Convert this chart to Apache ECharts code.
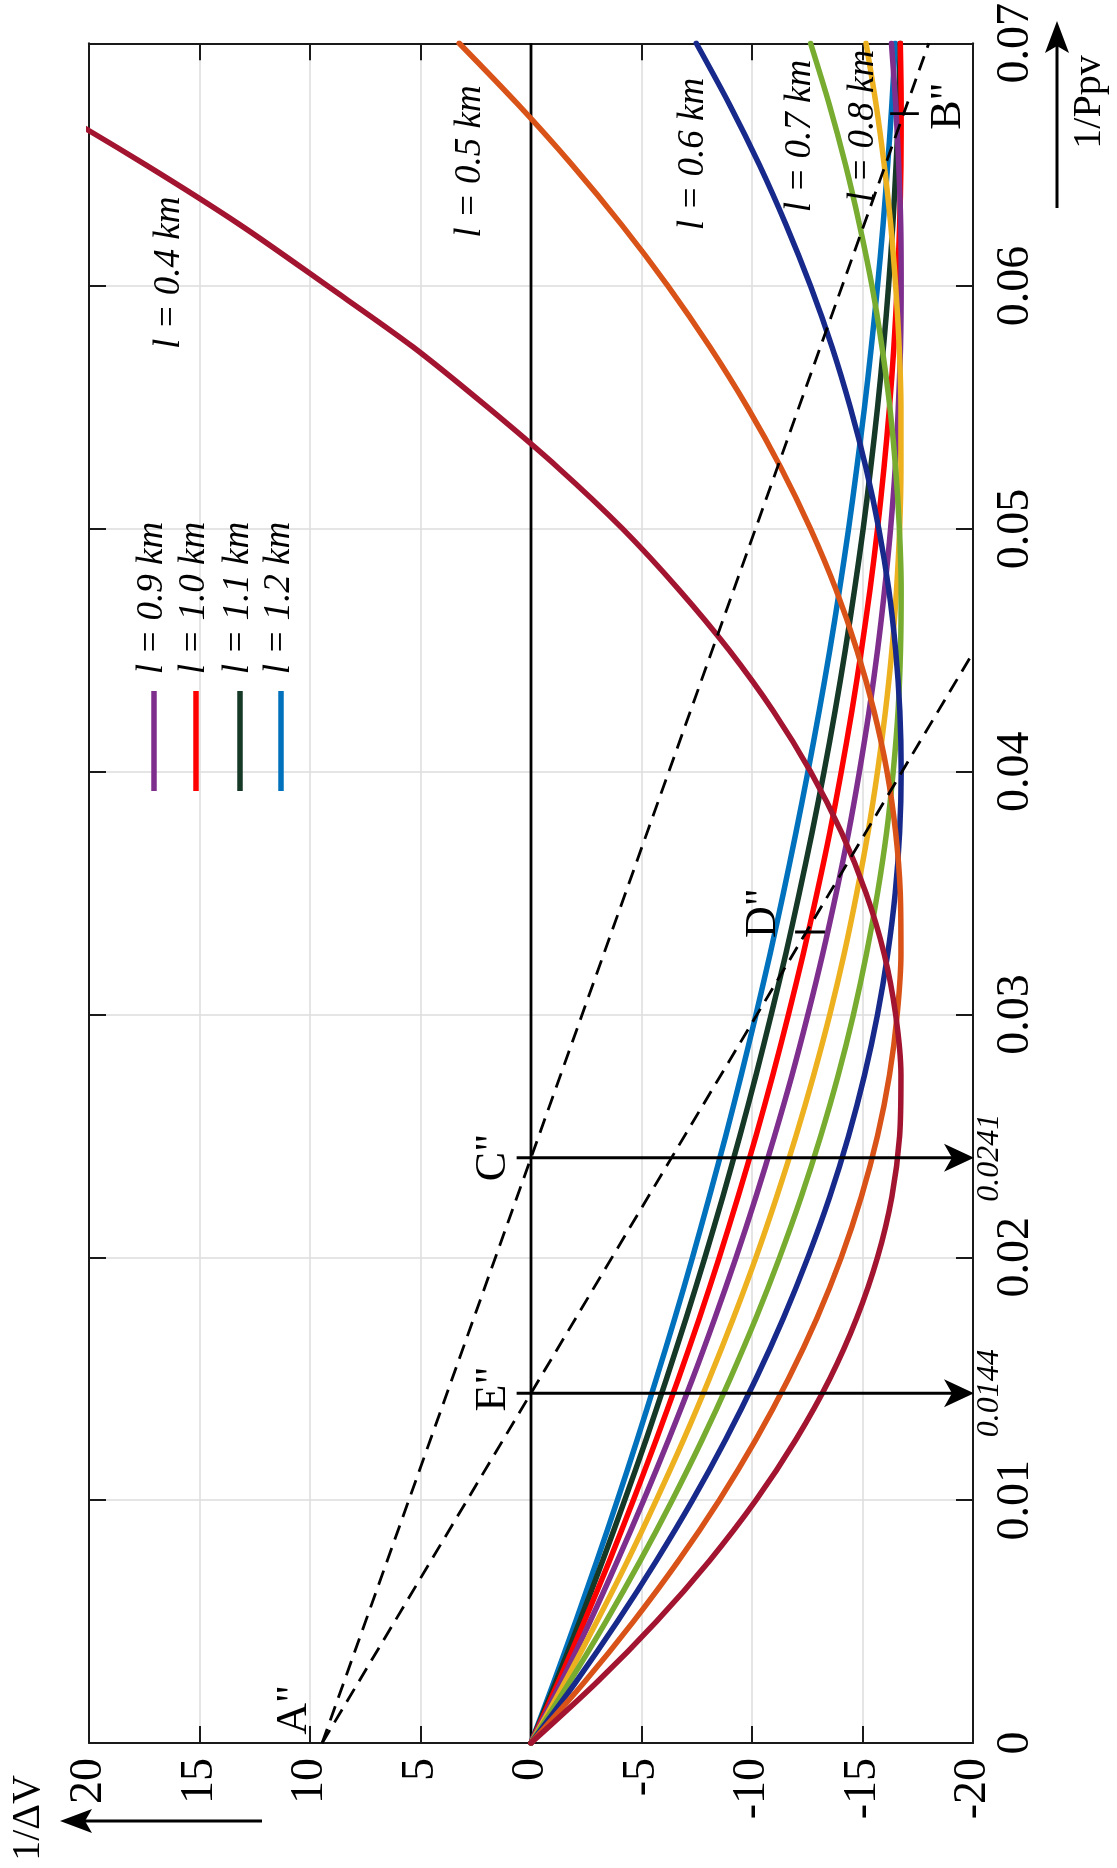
<!DOCTYPE html>
<html>
<head>
<meta charset="utf-8">
<script src="https://cdn.jsdelivr.net/npm/echarts@6/dist/echarts.min.js"></script>
<style>
  html, body { margin: 0; padding: 0; background: #ffffff; }
  #chart { width: 1117px; height: 1868px; }
</style>
</head>
<body>
<div id="chart"></div>
<script>
// 1/Ppv sample positions shared by every curve
const ppv = [0, 0.0025, 0.005, 0.0075, 0.01, 0.0125, 0.015, 0.0175, 0.02, 0.0225, 0.025, 0.0275, 0.03, 0.0325,
  0.035, 0.0375, 0.04, 0.0425, 0.045, 0.0475, 0.05, 0.0525, 0.055, 0.0575, 0.06, 0.0625, 0.065, 0.0675, 0.07];

// 1/ΔV along each curve, one array per line length l
const dvL04 = [0, -2.98, -5.67, -8.07, -10.18, -11.99, -13.52, -14.74, -15.68, -16.33, -16.68, -16.74, -16.50, -15.98,
  -15.16, -14.05, -12.65, -10.96, -8.97, -6.69, -4.15, -1.25, 1.95, 5.35, 9.2, 13.13, 17.45, 22.07, 26.98];
const dvL05 = [0, -2.41, -4.63, -6.67, -8.52, -10.18, -11.65, -12.94, -14.04, -14.95, -15.68, -16.22, -16.57, -16.74,
  -16.71, -16.50, -16.11, -15.52, -14.75, -13.80, -12.65, -11.32, -9.80, -8.09, -6.20, -4.12, -1.85, 0.61, 3.25];
const dvL06 = [0, -2.02, -3.91, -5.67, -7.31, -8.81, -10.18, -11.42, -12.53, -13.52, -14.37, -15.09, -15.68, -16.14,
  -16.48, -16.68, -16.75, -16.69, -16.50, -16.19, -15.74, -15.16, -14.45, -13.62, -12.65, -11.55, -10.33, -8.97, -7.48];
const dvL07 = [0, -1.74, -3.39, -4.94, -6.39, -7.75, -9.01, -10.18, -11.25, -12.23, -13.11, -13.90, -14.59, -15.18,
  -15.68, -16.09, -16.39, -16.61, -16.72, -16.75, -16.67, -16.50, -16.24, -15.88, -15.43, -14.87, -14.23, -13.49, -12.65];
const dvL08 = [0, -1.53, -2.98, -4.37, -5.67, -6.91, -8.07, -9.16, -10.18, -11.12, -11.99, -12.79, -13.52, -14.17,
  -14.74, -15.25, -15.68, -16.04, -16.33, -16.54, -16.68, -16.74, -16.74, -16.66, -16.50, -16.28, -15.98, -15.61, -15.16];
const dvL09 = [0, -1.36, -2.67, -3.91, -5.10, -6.23, -7.31, -8.32, -9.28, -10.18, -11.02, -11.81, -12.53, -13.20,
  -13.81, -14.37, -14.86, -15.30, -15.68, -16.00, -16.27, -16.48, -16.62, -16.72, -16.75, -16.73, -16.64, -16.50, -16.31];
const dvL10 = [0, -1.23, -2.41, -3.55, -4.63, -5.67, -6.67, -7.62, -8.52, -9.37, -10.18, -10.94, -11.65, -12.32,
  -12.94, -13.52, -14.04, -14.52, -14.95, -15.34, -15.68, -15.97, -16.22, -16.42, -16.57, -16.68, -16.74, -16.75, -16.71];
const dvL11 = [0, -1.12, -2.20, -3.24, -4.24, -5.21, -6.13, -7.02, -7.87, -8.68, -9.45, -10.18, -10.87, -11.53,
  -12.14, -12.72, -13.26, -13.76, -14.22, -14.64, -15.03, -15.37, -15.68, -15.95, -16.18, -16.37, -16.52, -16.64, -16.71];
const dvL12 = [0, -1.03, -2.02, -2.98, -3.91, -4.81, -5.67, -6.51, -7.31, -8.07, -8.81, -9.51, -10.18, -10.82,
  -11.42, -11.99, -12.53, -13.04, -13.52, -13.96, -14.37, -14.74, -15.09, -15.40, -15.68, -15.93, -16.14, -16.33, -16.48];

const lineLengths = ['0.4', '0.5', '0.6', '0.7', '0.8', '0.9', '1.0', '1.1', '1.2'];
const curveValues = [dvL04, dvL05, dvL06, dvL07, dvL08, dvL09, dvL10, dvL11, dvL12];

// Straight construction lines from A'' (1/ΔV, 1/Ppv end points)
const lineACB = { dv: [9.45, -18.0], ppv: [0, 0.07] };
const lineAED = { dv: [9.45, -20.0], ppv: [0, 0.0449] };

// Read-off levels on the 1/Ppv axis
const readLevels = [0.0241, 0.0144];
const readLabels = ['0.0241', '0.0144'];
const readStartDv = 0.65;

// Points marked on the construction lines
const tickD = { ppv: 0.0334, dv: [-11.95, -13.3] };
const tickB = { ppv: 0.0671, dv: [-16.25, -17.55] };

// Axis ranges and tick steps
const dvRange = [-20, 20], dvStep = 5;
const ppvRange = [0, 0.07], ppvStep = 0.01;

const colors = ['#A2142F', '#D95319', '#172A8C', '#77AC30', '#EDB120', '#7E2F8E', '#FF0000', '#153827', '#0072BD'];
const SERIF = '"Liberation Serif", "DejaVu Serif", serif';
const TICK_FONT = 46;

const chart = echarts.init(document.getElementById('chart'), null, { renderer: 'canvas' });

const frameColor = '#1a1a1a';
function axisBase(extra) {
  return Object.assign({
    type: 'value',
    axisLine: { show: true, onZero: false, lineStyle: { color: frameColor, width: 2 } },
    axisTick: { show: true, inside: true, length: 17, lineStyle: { color: frameColor, width: 2 } },
    splitLine: { show: false },
    axisLabel: { show: false }
  }, extra);
}

// Curves: drawn widest-l first so that l = 0.4 km lies on top
const curveSeries = lineLengths.map((l, i) => ({
  type: 'line',
  name: 'l = ' + l + ' km',
  data: ppv.map((p, j) => [curveValues[i][j], p]),
  smooth: 0.3,
  symbol: 'none',
  clip: true,
  lineStyle: { color: colors[i], width: 5.5, cap: 'round', join: 'round' },
  z: 20 - i
})).reverse();

const zeroSeries = {
  type: 'line', data: [[0, ppvRange[0]], [0, ppvRange[1]]], symbol: 'none',
  lineStyle: { color: '#000', width: 2.8 }, z: 5
};

const dashSeries = [lineACB, lineAED].map(d => ({
  type: 'line', data: d.dv.map((v, k) => [v, d.ppv[k]]), symbol: 'none', clip: true,
  lineStyle: { color: '#000', width: 2.8, type: [15, 9] }, z: 30
}));

const readSeries = readLevels.map(p => ({
  type: 'line', data: [[readStartDv, p], [dvRange[0] + 0.8, p]], symbol: 'none',
  lineStyle: { color: '#000', width: 3 }, z: 31
}));

const tickSeries = [tickD, tickB].map(t => ({
  type: 'line', data: t.dv.map(v => [v, t.ppv]), symbol: 'none',
  lineStyle: { color: '#000', width: 2.8 }, z: 31
}));

chart.setOption({
  animation: false,
  backgroundColor: '#ffffff',
  textStyle: { fontFamily: SERIF },
  grid: { left: 89, right: 144, top: 39, bottom: 125, containLabel: false },
  xAxis: [
    axisBase({
      position: 'bottom', min: dvRange[0], max: dvRange[1], interval: dvStep, inverse: true,
      axisLabel: { show: true, rotate: 90, margin: 15, fontSize: TICK_FONT, fontFamily: SERIF, color: '#000' },
      splitLine: { show: true, lineStyle: { color: '#dcdcdc', width: 1.5 } }
    }),
    axisBase({ position: 'top', min: dvRange[0], max: dvRange[1], interval: dvStep, inverse: true })
  ],
  yAxis: [
    axisBase({
      position: 'right', min: ppvRange[0], max: ppvRange[1], interval: ppvStep,
      axisLabel: { show: true, rotate: 90, margin: 20, fontSize: TICK_FONT, fontFamily: SERIF, color: '#000',
        formatter: v => String(+v.toFixed(2)) },
      splitLine: { show: true, lineStyle: { color: '#dcdcdc', width: 1.5 } }
    }),
    axisBase({ position: 'left', min: ppvRange[0], max: ppvRange[1], interval: ppvStep })
  ],
  series: [zeroSeries].concat(curveSeries, dashSeries, readSeries, tickSeries)
});

// Annotations placed from data coordinates
const px = (dv, p) => chart.convertToPixel({ xAxisIndex: 0, yAxisIndex: 0 }, [dv, p]);
const UP = Math.PI / 2;

function vText(text, x, y, size, italic) {
  return {
    type: 'text', x: x, y: y, rotation: UP, z: 100,
    style: {
      text: text, fontSize: size, fontFamily: SERIF, fontStyle: italic ? 'italic' : 'normal',
      fill: '#000', align: 'center', verticalAlign: 'middle'
    }
  };
}

const graphics = [];

// Curve labels beside the upper ends of the curves
const curveLabelAt = [[16.38, 0.06055], [2.76, 0.06513], [-7.33, 0.06544], [-12.17, 0.06618], [-15.02, 0.06659]];
curveLabelAt.forEach((c, i) => {
  const q = px(c[0], c[1]);
  graphics.push(vText('l = ' + lineLengths[i] + ' km', q[0], q[1], 37, true));
});

// Legend for the remaining lengths
const legendIdx = [5, 6, 7, 8];
const legendX = [154, 196, 240, 281];
legendIdx.forEach((idx, k) => {
  graphics.push({
    type: 'line', z: 100,
    shape: { x1: legendX[k], y1: 691, x2: legendX[k], y2: 791 },
    style: { stroke: colors[idx], lineWidth: 5.5 }
  });
  graphics.push(vText('l = ' + lineLengths[idx] + ' km', legendX[k] - 2, 598, 37, true));
});

// Point letters
const pointLabels = [['A"', 10.72, 0.00136], ['E"', 1.72, 0.01458], ['C"', 1.72, 0.02411], ['D"', -10.54, 0.03418], ['B"', -18.87, 0.06741]];
pointLabels.forEach(pl => {
  const q = px(pl[1], pl[2]);
  graphics.push(vText(pl[0], q[0], q[1], 44, false));
});

// Arrow heads and values of the read-off levels
function headRight(tx, ty) {
  return { type: 'polygon', z: 101,
    shape: { points: [[tx, ty], [tx - 30, ty - 14], [tx - 22, ty], [tx - 30, ty + 14]] },
    style: { fill: '#000' } };
}
readLevels.forEach((p, i) => {
  const tip = px(dvRange[0], p);
  graphics.push(headRight(tip[0] + 1, tip[1]));
  graphics.push(vText(readLabels[i], tip[0] + 17, tip[1], 32, true));
});

// Axis names with direction arrows
graphics.push(vText('1/Ppv', 1089, 102, 40, false));
graphics.push({ type: 'line', z: 100, shape: { x1: 1057, y1: 208, x2: 1057, y2: 40 }, style: { stroke: '#000', lineWidth: 3 } });
graphics.push({ type: 'polygon', z: 101, shape: { points: [[1057, 21], [1045, 53], [1057, 46], [1069, 53]] }, style: { fill: '#000' } });

graphics.push(vText('1/ΔV', 28, 1818, 40, false));
graphics.push({ type: 'line', z: 100, shape: { x1: 262, y1: 1821, x2: 78, y2: 1821 }, style: { stroke: '#000', lineWidth: 3 } });
graphics.push({ type: 'polygon', z: 101, shape: { points: [[60, 1821], [92, 1809], [85, 1821], [92, 1833]] }, style: { fill: '#000' } });

chart.setOption({ graphic: graphics });
</script>
</body>
</html>
